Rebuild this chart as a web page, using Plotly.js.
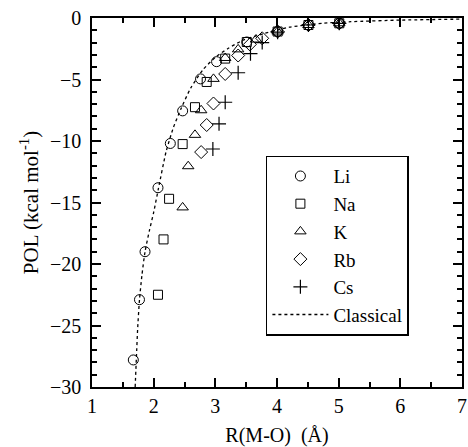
<!DOCTYPE html>
<html>
<head>
<meta charset="utf-8">
<script src="https://cdn.plot.ly/plotly-3.0.1.min.js"></script>
<style>html,body{margin:0;padding:0;background:#fff;}#chart{width:468px;height:447px;}</style>
</head>
<body>
<div id="chart"></div>
<script>
// Data
const liR   = [1.67, 1.77, 1.86, 2.07, 2.27, 2.47, 2.76, 3.02, 3.51, 4.01, 4.51, 5.01];
const liPOL = [-27.8, -22.9, -19.0, -13.8, -10.2, -7.55, -4.95, -3.55, -1.95, -1.1, -0.57, -0.43];

const naR   = [2.07, 2.16, 2.25, 2.47, 2.67, 2.86, 3.16, 3.51, 4.01, 4.51, 5.01];
const naPOL = [-22.5, -18.0, -14.7, -10.25, -7.25, -5.2, -3.3, -1.95, -1.1, -0.57, -0.43];

const kR    = [2.47, 2.56, 2.67, 2.77, 2.97, 3.16, 3.37, 3.66, 4.01, 4.51, 5.01];
const kPOL  = [-15.4, -12.05, -9.5, -7.5, -4.95, -3.25, -2.55, -1.75, -1.1, -0.57, -0.43];

const rbR   = [2.77, 2.86, 2.97, 3.16, 3.37, 3.56, 3.76, 4.01, 4.51, 5.01];
const rbPOL = [-10.9, -8.7, -6.95, -4.55, -3.05, -2.15, -1.65, -1.1, -0.57, -0.43];

const csR   = [2.96, 3.06, 3.16, 3.37, 3.57, 3.76, 4.01, 4.51, 5.01];
const csPOL = [-10.65, -8.6, -6.85, -4.45, -2.9, -2.0, -1.15, -0.57, -0.43];

const clR   = [1.70, 1.72, 1.74, 1.77, 1.81, 1.86, 1.93, 2.00, 2.08, 2.20, 2.32, 2.45, 2.60, 2.80, 3.00, 3.20, 3.45, 3.80, 4.20, 4.75, 5.20, 6.00, 7.00];
const clPOL = [-30.0, -27.6, -25.3, -22.9, -20.9, -19.0, -17.3, -15.8, -13.8, -10.9, -8.9, -7.3, -5.7, -4.2, -3.2, -2.5, -1.8, -1.25, -0.75, -0.42, -0.3, -0.17, -0.09];

// Tick values
const xMajorTicks = [1, 2, 3, 4, 5, 6, 7];
const yMajorTicks = [-30, -25, -20, -15, -10, -5, 0];

const serif = "'Liberation Serif', 'Times New Roman', serif";
const mk = (sym, size) => ({symbol: sym, size: size, color: '#000', line: {color: '#000', width: 1}});

const traces = [
  {x: liR, y: liPOL, name: 'Li', mode: 'markers', type: 'scatter', marker: mk('circle-open', 10)},
  {x: naR, y: naPOL, name: 'Na', mode: 'markers', type: 'scatter', marker: mk('square-open', 9)},
  {x: kR,  y: kPOL,  name: 'K',  mode: 'markers', type: 'scatter', marker: mk('triangle-up-open', 10)},
  {x: rbR, y: rbPOL, name: 'Rb', mode: 'markers', type: 'scatter', marker: mk('diamond-open', 10)},
  {x: csR, y: csPOL, name: 'Cs', mode: 'markers', type: 'scatter', marker: {symbol: 'cross-thin-open', size: 10, color: '#000', line: {color: '#000', width: 1.2}}},
  {x: clR, y: clPOL, name: 'Classical', mode: 'lines', type: 'scatter', line: {color: '#000', width: 1.3, dash: 'dot', shape: 'spline', smoothing: 0.6}}
];

const layout = {
  width: 468, height: 447,
  margin: {l: 92, r: 6, t: 18, b: 60},
  paper_bgcolor: '#fff', plot_bgcolor: '#fff',
  font: {family: serif, color: '#000', size: 20},
  xaxis: {
    range: [xMajorTicks[0], xMajorTicks[xMajorTicks.length - 1]], tickmode: 'array', tickvals: xMajorTicks,
    showgrid: false, zeroline: false, showline: true, linecolor: '#000', linewidth: 1.5,
    mirror: 'allticks', ticks: 'inside', ticklen: 9, tickwidth: 1.5, tickcolor: '#000',
    tickfont: {family: serif, size: 20, color: '#000'},
    minor: {dtick: 0.5, ticks: 'inside', ticklen: 5, tickwidth: 1.5, tickcolor: '#000', showgrid: false},
    title: {text: 'R(M-O)\u00a0\u00a0(Å)', font: {family: serif, size: 20, color: '#000'}, standoff: 15}
  },
  yaxis: {
    range: [yMajorTicks[0], yMajorTicks[yMajorTicks.length - 1]], tickmode: 'array', tickvals: yMajorTicks,
    showgrid: false, zeroline: false, showline: true, linecolor: '#000', linewidth: 1.5,
    mirror: 'allticks', ticks: 'inside', ticklen: 9, tickwidth: 1.5, tickcolor: '#000',
    ticklabelstandoff: 5,
    tickfont: {family: serif, size: 20, color: '#000'},
    minor: {dtick: 1, ticks: 'inside', ticklen: 5, tickwidth: 1.5, tickcolor: '#000', showgrid: false},
    title: {text: 'POL (kcal mol<sup>-1</sup>)', font: {family: serif, size: 21, color: '#000'}, standoff: 6}
  },
  showlegend: true,
  legend: {
    x: 0.47, y: 0.627, xanchor: 'left', yanchor: 'top',
    bgcolor: '#fff', bordercolor: '#000', borderwidth: 1.5,
    font: {family: serif, size: 19, color: '#000'},
    itemwidth: 56, tracegroupgap: 0
  }
};

Plotly.newPlot('chart', traces, layout, {displayModeBar: false});
</script>
</body>
</html>
